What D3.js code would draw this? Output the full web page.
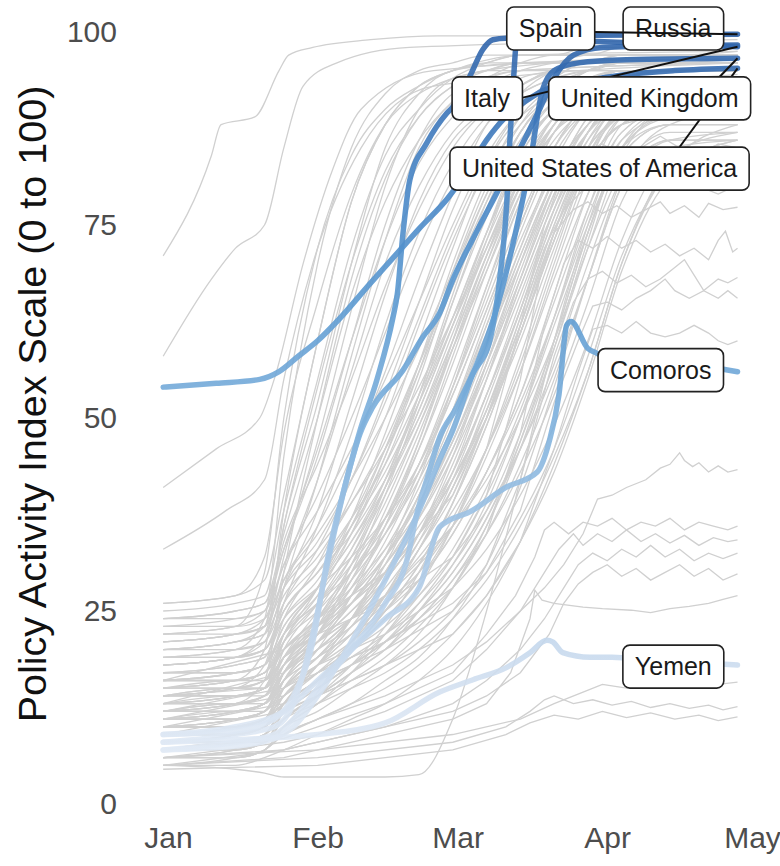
<!DOCTYPE html>
<html>
<head>
<meta charset="utf-8">
<script src="https://cdn.jsdelivr.net/npm/d3@7"></script>
<style>
  body { margin: 0; background: #fff; }
  svg { display: block; }
  text { font-family: "Liberation Sans", Arial, sans-serif; }
</style>
</head>
<body>
<svg id="chart" width="780" height="866"></svg>
<script>
// ---- data: policy activity index, days counted from 1 Jan 2020 ----
const yTicks = [0, 25, 50, 75, 100];
const monthTicks = ["2020-01-01", "2020-02-01", "2020-03-01", "2020-04-01", "2020-05-01"];

// Common day grid for the bulk of countries
const bulkDays = [-1, 14, 20, 24, 31, 38, 45, 52, 59, 66, 73, 80, 87, 94, 104, 118];
const bulkSeries = [
  [25,26,27,38,55,72,84,90,94,96,97,97,98,98,98,98.5],
  [24,25,26,35,50,66,78,86,91,94,96,97,97,98,98,98],
  [22,23,25,33,46,60,73,83,89,93,95,96,97,97,97,97.5],
  [20,21,22,30,42,56,70,80,87,91,94,95,96,96,96,96],
  [18,19,21,28,38,52,66,78,86,90,93,95,96,97,97,97],
  [23,24,25,34,44,55,67,77,85,90,93,95,95,96,96,96.5],
  [16,17,18,26,36,48,62,74,83,89,92,94,95,95,95,95],
  [21,22,24,31,40,50,61,72,81,88,92,94,95,96,96,96],
  [15,16,17,24,31,40,50,62,73,82,88,92,94,95,95,95.5],
  [19,20,21,28,34,42,52,63,74,83,89,92,94,95,95,95],
  [14,14,15,22,28,36,46,57,68,78,86,91,93,94,94,94],
  [17,18,19,25,30,37,46,56,67,77,85,90,93,94,94,94.5],
  [12,13,14,20,26,33,42,53,65,76,85,90,93,94,95,95],
  [20,21,22,27,32,39,47,57,67,77,85,90,93,94,94,94],
  [13,13,14,19,25,32,41,51,62,73,82,88,92,93,93,93],
  [16,17,18,23,28,34,42,52,63,74,83,89,92,93,93,93.5],
  [11,12,13,18,24,31,39,49,60,71,80,87,91,92,93,93],
  [18,19,20,25,30,36,43,52,62,72,81,87,91,92,92,92],
  [10,11,12,17,22,29,38,48,59,70,80,87,90,92,92,92],
  [14,15,16,21,26,32,40,49,59,69,79,86,90,91,91,91],
  [12,13,14,18,22,27,33,41,51,62,73,82,88,91,92,92],
  [15,16,17,21,25,30,36,44,54,65,76,85,90,92,93,93],
  [9,10,11,15,19,24,30,38,48,59,71,81,88,91,92,92],
  [17,17,18,22,26,30,35,42,51,61,72,82,88,91,92,92],
  [11,12,13,17,21,26,32,40,49,60,71,81,88,92,93,93],
  [13,14,15,19,23,27,32,39,47,57,68,79,87,91,92,92],
  [8,9,10,14,18,23,29,37,46,57,69,80,87,90,91,91],
  [16,16,17,20,24,28,33,39,47,57,68,79,87,91,92,92],
  [10,11,12,16,20,24,29,35,44,55,67,78,86,90,91,91],
  [14,15,15,19,22,26,31,37,45,55,66,77,85,89,90,90],
  [12,13,13,17,21,25,30,36,43,53,64,76,85,89,90,90],
  [9,10,11,14,18,22,27,33,41,51,63,75,84,89,90,90],
  [15,16,16,19,22,26,30,35,42,51,62,74,83,88,89,89],
  [11,11,12,15,19,23,27,33,40,50,61,73,83,88,90,90],
  [7,8,9,12,16,20,25,31,39,49,61,73,83,88,90,90],
  [13,14,14,17,20,23,27,32,38,46,56,68,79,87,90,90],
  [10,10,11,14,17,20,24,29,35,43,53,65,77,86,89,89],
  [8,9,10,12,15,18,22,27,33,41,51,63,76,85,88,88],
  [12,12,13,16,19,22,26,30,36,43,52,63,75,84,88,88],
  [6,7,8,11,14,17,21,26,32,40,50,62,74,84,88,88],
  [14,15,15,18,21,24,27,31,36,42,50,60,72,82,87,87],
  [9,9,10,12,15,18,21,25,30,37,46,57,70,81,86,86],
  [11,11,12,14,17,20,23,27,32,38,46,56,68,80,86,86],
  [7,7,8,10,13,16,19,23,28,35,44,55,68,80,86,87],
  [10,10,11,13,16,18,21,24,29,35,43,53,65,78,85,86],
  [8,8,9,11,13,15,17,20,24,29,36,45,56,70,82,86],
  [12,12,13,15,17,19,21,24,28,33,40,49,60,73,84,87],
  [6,6,7,9,11,13,15,18,22,27,34,43,55,69,81,85],
  [9,9,10,12,14,16,18,21,25,30,37,46,58,71,82,86],
  [5,5,6,7,9,11,13,16,20,26,34,44,56,70,83,88],
  [19,20,24,45,70,85,92,95,96,97,97,97,97,97,97,97],
  [22,23,30,50,72,84,90,93,95,96,96,96,96,96,96,96],
  [15,16,20,38,60,78,88,93,95,96,97,97,97,97,97,97],
  [26,27,32,48,65,79,88,92,94,95,96,96,96,96,96,96],
  [12,13,16,30,50,68,81,89,93,95,96,96,96,96,96,96],
  [20,21,23,36,54,70,82,89,93,95,95,95,95,95,95,95],
  [10,11,12,17,23,31,41,53,66,78,87,92,94,95,95,95],
  [13,14,15,21,27,35,45,57,70,81,89,93,95,96,96,96],
  [8,9,10,15,20,27,36,47,60,73,84,90,93,94,95,95],
  [17,18,19,24,29,36,45,56,69,80,88,93,95,96,96,96],
  [11,12,13,18,23,29,37,47,59,71,82,89,93,95,95,95],
  [14,15,16,22,28,35,44,55,68,79,87,92,95,96,96,96],
  [9,10,11,16,21,27,34,43,54,66,78,87,92,94,95,95],
  [16,17,18,23,28,34,41,50,61,72,82,89,93,95,95,95],
  [7,8,9,13,18,24,31,40,51,63,75,85,91,94,95,95],
  [19,19,20,25,30,35,42,50,60,71,81,88,92,94,94,94],
  [12,12,13,18,23,28,35,44,55,67,78,87,92,94,95,95],
  [10,10,11,15,19,24,30,38,48,60,72,83,90,93,94,94],
  [15,15,16,20,24,29,35,43,53,64,75,85,91,94,95,95],
  [6,7,8,12,16,21,27,35,45,57,70,81,89,93,94,94],
  [13,13,14,18,22,26,31,38,47,58,70,81,89,93,94,94],
  [8,8,9,13,17,21,26,33,42,53,65,77,87,92,93,93],
  [11,11,12,16,20,24,29,35,43,53,64,76,86,91,93,93],
  [5,6,7,10,14,18,23,30,39,50,62,75,85,91,93,93],
  [14,14,15,18,21,25,29,35,42,51,62,74,84,90,92,92],
  [9,9,10,13,16,20,24,29,36,45,56,69,81,89,92,92],
  [5,4.5,4,3.5,3.5,3.5,3.5,3.8,11,25,42,60,75,86,90,91],
  [7,7,8,10,12,15,18,22,28,36,47,60,74,85,90,91],
  [10,10,11,13,15,18,21,25,30,37,47,59,72,84,90,91],
  [6,6,7,9,11,13,16,19,24,31,41,54,68,81,88,90],
  [21,22,23,29,36,45,56,68,79,88,93,95,96,97,97,97],
  [13,14,15,21,28,37,48,60,72,83,90,94,96,96,96,96],
  [18,19,20,26,33,42,53,65,77,86,92,95,96,96,96,96],
  [9,10,11,16,22,30,40,52,65,77,87,92,95,96,96,96],
  [16,16,17,22,27,33,41,51,62,74,85,91,94,95,95,95],
  [11,12,12,17,22,28,36,46,58,70,81,89,93,95,95,95],
  [20,20,21,26,31,37,44,53,63,74,84,90,93,94,94,94],
  [8,8,9,13,18,24,32,42,54,67,79,88,93,95,95,95],
  [14,14,15,19,24,30,37,46,57,69,80,88,92,94,94,94],
  [12,12,13,17,21,26,32,40,50,62,74,84,90,93,94,94],
  [17,17,18,22,26,31,37,44,53,64,75,85,91,94,95,95],
  [7,7,8,12,16,21,27,34,43,55,68,80,88,92,93,93],
  [10,10,11,14,18,22,27,33,41,52,64,77,87,92,93,93],
  [15,15,16,19,23,27,32,38,46,56,67,78,87,92,93,93],
  [9,9,10,13,16,20,25,31,39,49,61,74,85,91,92,92],
  [13,13,14,17,20,24,28,34,41,50,61,73,84,90,92,92],
  [6,6,7,10,13,17,22,28,36,46,58,71,83,90,92,92],
  [11,11,12,15,18,21,25,30,37,46,57,70,82,89,91,91],
  [19,19,20,24,28,32,37,43,51,60,70,80,87,91,92,92],
  [8,8,9,11,14,17,20,25,31,39,50,63,77,87,90,90],
  [12,13,13,16,19,22,25,29,35,43,53,66,79,88,91,91],
  [16,16,17,20,23,26,30,35,42,50,60,72,83,90,92,92],
  [7,8,8,11,14,17,20,24,29,36,46,59,73,85,89,89],
  [10,10,11,13,16,19,22,26,31,38,48,60,74,85,89,90],
  [22,22,23,28,33,39,46,54,63,72,81,88,92,94,94,94],
  [24,24,25,31,38,46,55,65,75,84,90,94,96,96,96,96],
  [23,23,24,29,35,42,50,59,69,79,87,92,95,96,96,96]
];

// Early movers that were already high in January or rose first
const earlyLines = [
  [[-1,71],[9,84],[11,88],[18,89],[23,95],[25,97],[30,98],[42,99],[56,99.5],[118,99.5]],
  [[-1,58],[9,68],[14,72],[20,75],[24,85],[28,93],[35,96],[50,98],[118,99]],
  [[-1,41],[10,46],[19,50],[22,55],[28,70],[34,82],[40,90],[55,95],[118,97]],
  [[-1,33],[12,38],[20,42],[24,55],[30,70],[40,85],[55,93],[118,96]],
  [[-1,26],[14,27],[20,29],[24,40],[31,60],[38,78],[45,88],[52,93],[59,95],[73,97],[118,97.5]],
  [[-1,21],[14,22],[20,23],[24,36],[31,52],[38,70],[45,85],[52,92],[59,95],[73,96],[118,96.5]],
  [[-1,18],[14,19],[20,22],[24,32],[31,47],[38,64],[45,80],[52,90],[59,94],[80,96],[118,97]],
  [[-1,24],[14,25],[20,26],[24,33],[31,45],[38,60],[45,75],[52,86],[59,92],[73,95],[118,96]],
  [[-1,14],[14,15],[20,18],[24,28],[31,42],[38,58],[45,73],[52,85],[59,91],[73,95],[118,96]]
];

// Countries that levelled off below the top band
const plateauLines = [
  [[-1,13],[24,17],[31,21],[45,27],[59,36],[66,46],[73,62],[78,75],[82,82],[86,84.5],[90,85.5],[94,84],[98,85],[102,86.5],[106,85],[110,84],[114,85.5],[118,85]],
  [[-1,16],[24,20],[31,24],[45,30],[59,40],[66,50],[73,63],[78,72],[82,77],[86,79.5],[90,80.5],[94,79.5],[98,81],[102,80],[106,81.5],[110,80],[114,79],[118,80.2]],
  [[-1,14],[20,15],[24,19],[31,22],[45,26],[59,32],[66,40],[73,55],[77,68],[80,74],[84,77],[87,78],[90,76.5],[93,77.5],[96,76],[99,77],[102,78],[104,76.5],[107,77.5],[110,76],[112,77.8],[115,77],[118,77.3]],
  [[-1,12],[24,15],[31,18],[45,22],[59,28],[66,35],[73,48],[78,62],[82,70],[85,73],[88,72],[91,73.5],[94,72],[97,73],[100,71.5],[103,72.5],[106,71],[109,72],[112,70.5],[114,73],[115.5,74.2],[117,71.5],[118,72]],
  [[-1,10],[24,13],[31,16],[45,20],[59,25],[66,31],[73,42],[80,58],[84,65],[87,68],[90,69],[93,67.5],[96,68.5],[99,67],[102,68],[105,69.5],[107,70.5],[109,68.5],[111,66.5],[114,68],[116,67.5],[118,68.2]],
  [[-1,11],[24,14],[31,17],[45,21],[59,26],[66,30],[73,38],[80,52],[85,60],[88,64.5],[91,65],[94,64],[97,65.5],[100,66.5],[103,68],[105,66.5],[108,65.5],[111,66.5],[114,65.5],[116,66.5],[118,65.5]],
  [[-1,9],[24,12],[31,14],[45,18],[59,22],[66,27],[73,34],[80,46],[85,56],[88,61.5],[91,62],[94,61],[97,62.5],[100,61],[103,60.5],[106,61],[109,62],[112,61],[114,60],[116,59.5],[118,60]],
  [[-1,7],[24,9],[31,11],[45,14],[59,18],[66,21],[73,25],[78,28],[82,31],[86,35],[89,39.5],[92,40],[95,41],[99,42],[102,43.5],[104,44],[106,45.5],[107,44.5],[108.7,43.7],[110,44.2],[112,43],[114,43.8],[116,43],[118,43.3]],
  [[-1,7],[24,8.5],[31,10],[45,13],[59,17],[66,22],[72,27],[76,32],[78,35.5],[80,36.5],[83,35],[86,36.5],[89,36],[92,37],[95,35.5],[98,36.5],[101,36],[104,37],[107,35.5],[110,36.5],[113,36],[116,35.5],[118,36]],
  [[-1,6],[24,8],[31,9],[45,12],[59,16],[66,20],[73,25],[78,30],[81,33],[84,35],[86,33.5],[89,35],[92,34],[95,35.5],[98,34],[101,35],[104,33.8],[107,34.8],[110,33.5],[113,34.5],[116,34],[118,34.2]],
  [[-1,5],[24,7],[31,8],[45,10],[59,13],[66,16],[73,20],[78,24],[82,28],[85,31],[88,32.5],[91,31.5],[94,33],[97,32],[100,33.5],[103,32],[106,33],[109,31.5],[112,32.5],[115,31.8],[118,32.5]],
  [[-1,6],[24,7],[31,8],[45,10],[59,12],[66,14],[73,17],[79,22],[82,26],[85,28.5],[88,30],[91,31],[94,29.5],[97,30.5],[100,29],[103,30],[106,31],[109,29.5],[112,30.5],[115,29],[118,29.8]],
  [[-1,5],[24,6],[31,7],[45,9],[59,11],[66,13],[71,17],[75,24],[76,27.7],[77.5,26.4],[80,26],[86,25.5],[90,25.3],[96,25.1],[100,24.8],[104,25.3],[108,25.6],[112,26],[115,26.5],[118,27]],
  [[-1,6],[31,7],[59,9],[73,11],[80,13],[86,14.5],[90,15.5],[95,15],[100,16],[105,15.5],[110,16],[114,15.5],[118,15.8]],
  [[-1,5],[31,6],[59,8],[70,10],[75,12],[78,13.5],[80,14],[84,13],[88,13.5],[92,12.8],[96,13.3],[100,12.5],[104,13],[108,12.4],[112,12.8],[115,12.2],[118,12.6]],
  [[-1,4.5],[31,5],[59,7],[70,9],[75,10.5],[80,11.5],[85,11],[90,12],[95,11.2],[100,11.8],[105,11],[110,11.5],[114,10.8],[118,11.3]]
];

// Highlighted countries
const usa = [[-1,54],[10,54.5],[19,55],[23,56],[27,58],[31,60],[35,62.5],[42,67.5],[47,71],[52,74.5],[58,78.5],[62,82],[66,86],[70,89],[74,91],[78,92.5],[85,93.5],[95,94.5],[105,95],[118,95.3]];
const italy = [[-1,9],[14,9.5],[22,11],[26,14],[30,21],[33,31.6],[37,42],[39.8,48.4],[43.3,55],[46.6,63],[47.5,66],[48.7,74],[50.1,80.8],[53.6,85.6],[57.8,89.5],[59,90.3],[62.5,94.2],[65.2,97.7],[67.3,99],[70,99.2],[80,99],[100,98.5],[118,98.1]];
const spain = [[-1,7],[14,7.5],[22,8.5],[26,10],[31,14],[38,21],[45,29],[52,38],[56.3,44.6],[59,48.4],[63.1,55.6],[66.7,60.1],[68.7,67.9],[70.2,78],[70.8,85.6],[71.5,93],[72.3,99],[75,99.5],[118,99.7]];
const russia = [[-1,8],[14,9],[22,10],[26,13],[30,22],[33,31],[37,42],[39.8,48],[42.4,51.4],[48.7,56.2],[52.8,60.5],[56.3,63.6],[59,67.9],[63,73],[68,79],[73,85],[77,90],[80,94],[84,97],[90,98],[118,98.3]];
const uk = [[-1,7],[14,8],[22,9],[26,11],[31,15],[38,20],[45,26],[49.5,31.6],[51.6,37.7],[53.6,42],[56.3,47.5],[59.8,51.4],[60.5,52.3],[64,57],[68,64],[72,74],[75,83],[77.6,92.5],[80,95],[85,96],[95,96.4],[118,96.6]];
const comoros = [[-1,9],[14,10],[24,12],[31,16],[38,20],[45,24],[52,28],[56.3,35.9],[63,38],[70,41],[76.5,43],[79,47],[81,53],[82.6,62],[83.5,62.5],[87,59],[88.5,58.5],[95,57],[105,57],[118,56]];
const yemen = [[-1,8],[20,8.5],[31,9],[45,10.5],[56.3,14.5],[63.2,16.1],[70.2,17.7],[75,19.6],[78.5,21.2],[79.7,21],[81.8,19.6],[87.4,19],[92,19],[100,18.6],[110,18.3],[118,18]];

const highlighted = [
  { name: "Comoros", values: comoros },
  { name: "Yemen", values: yemen },
  { name: "United States of America", values: usa },
  { name: "Russia", values: russia },
  { name: "United Kingdom", values: uk },
  { name: "Spain", values: spain },
  { name: "Italy", values: italy }
];

// Label placement (date offset, index value) and where the leader leaves the box
const labelSpots = [
  { name: "Comoros", day: 102.1, val: 56.2 },
  { name: "Yemen", day: 104.7, val: 17.8 },
  { name: "Italy", day: 66.1, val: 91.4, from: [73.5, 91.5] },
  { name: "Russia", day: 104.7, val: 100.45 },
  { name: "Spain", day: 79.3, val: 100.45, from: [88.4, 100.0] },
  { name: "United States of America", day: 89.4, val: 82.3, from: [106, 85.1] },
  { name: "United Kingdom", day: 99.8, val: 91.4, from: [114.3, 94.2] }
];

// ---- drawing ----
const svg = d3.select("#chart");
const t0 = new Date(Date.UTC(2020, 0, 1));
const toDate = d => new Date(t0.getTime() + d * 864e5);

const x = d3.scaleUtc().domain([t0, new Date(Date.UTC(2020, 4, 1))]).range([168, 752]);
const y = d3.scaleLinear().domain([0, 100]).range([804, 32]);

// colour ramp for highlighted lines follows the index value
const defs = svg.append("defs");
const grad = defs.append("linearGradient")
  .attr("id", "valueRamp").attr("gradientUnits", "userSpaceOnUse")
  .attr("x1", 0).attr("x2", 0).attr("y1", y(0)).attr("y2", y(100));
const rampStops = [[0, "#eef3fa"], [15, "#d3e0f0"], [30, "#aecbe8"], [50, "#7db0dc"], [65, "#5c9ad1"], [80, "#4886c6"], [100, "#2f63aa"]];
grad.selectAll("stop").data(rampStops).join("stop")
  .attr("offset", d => d[0] + "%").attr("stop-color", d => d[1]);

const line = d3.line().x(d => x(toDate(d[0]))).y(d => y(d[1]));
const smooth = d3.line().x(d => x(toDate(d[0]))).y(d => y(d[1])).curve(d3.curveMonotoneX);

const greyG = svg.append("g").attr("fill", "none").attr("stroke", "#d0d0d0").attr("stroke-width", 1.3);
const bulk = bulkSeries.map(s => s.map((v, i) => [bulkDays[i], v]));
greyG.selectAll("path.bulk").data(bulk).join("path").attr("class", "bulk").attr("d", smooth);
greyG.selectAll("path.early").data(earlyLines).join("path").attr("class", "early").attr("d", smooth);
greyG.selectAll("path.plateau").data(plateauLines).join("path").attr("class", "plateau").attr("d", line);

svg.append("g").attr("fill", "none").attr("stroke", "url(#valueRamp)")
  .attr("stroke-width", 5.5).attr("stroke-linejoin", "round").attr("stroke-linecap", "round")
  .attr("stroke-opacity", 0.9)
  .selectAll("path").data(highlighted).join("path")
  .attr("d", d => smooth(d.values));

// axes
const yAxis = svg.append("g").attr("transform", "translate(122,0)")
  .call(d3.axisLeft(y).tickValues(yTicks).tickSize(0).tickPadding(5));
yAxis.select(".domain").remove();
yAxis.selectAll("text").attr("font-size", 30).attr("fill", "#4d4d4d")
  .attr("font-family", "'Liberation Sans', Arial, sans-serif");

const xAxis = svg.append("g").attr("transform", "translate(0,822)")
  .call(d3.axisBottom(x).tickValues(monthTicks.map(s => new Date(s + "T00:00:00Z")))
    .tickFormat(d3.utcFormat("%b")).tickSize(0).tickPadding(5));
xAxis.select(".domain").remove();
xAxis.selectAll("text").attr("font-size", 30).attr("fill", "#4d4d4d")
  .attr("font-family", "'Liberation Sans', Arial, sans-serif");

svg.append("text")
  .attr("transform", `translate(46,${(y(0) + y(100)) / 2 - 14}) rotate(-90)`)
  .attr("text-anchor", "middle").attr("font-size", 39.5).attr("fill", "#111")
  .text("Policy Activity Index Scale (0 to 100)");

// labels with leader lines
const endOf = name => { const v = highlighted.find(h => h.name === name).values; return v[v.length - 1]; };
const labG = svg.append("g");
labelSpots.forEach(l => {
  const g = labG.append("g");
  if (l.from) {
    const e = endOf(l.name);
    g.append("line")
      .attr("x1", x(toDate(l.from[0]))).attr("y1", y(l.from[1]))
      .attr("x2", x(toDate(e[0]))).attr("y2", y(e[1]))
      .attr("stroke", "#111").attr("stroke-width", 2);
  }
  const cx = x(toDate(l.day)), cy = y(l.val);
  const txt = g.append("text").attr("x", cx).attr("y", cy).attr("dy", "0.35em")
    .attr("text-anchor", "middle").attr("font-size", 25).attr("fill", "#1a1a1a").text(l.name);
  const bb = txt.node().getBBox();
  g.insert("rect", "text")
    .attr("x", bb.x - 12).attr("y", cy - 21.5).attr("width", bb.width + 24).attr("height", 43)
    .attr("rx", 7).attr("fill", "#fff").attr("stroke", "#222").attr("stroke-width", 1.6);
});
</script>
</body>
</html>
